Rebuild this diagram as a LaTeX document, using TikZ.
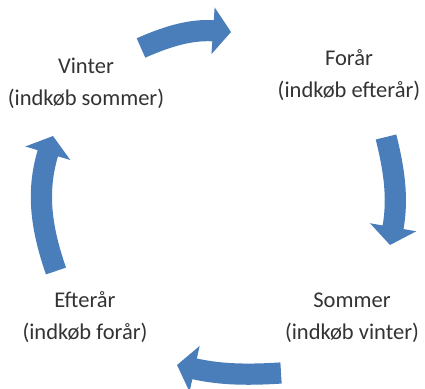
\documentclass[tikz,border=0pt]{standalone}
\usepackage{fontspec}
\setmainfont{Carlito}
\usepackage{tikz}
\usetikzlibrary{positioning,arrows.meta}

\definecolor{cycleblue}{RGB}{74,126,187}
\tikzset{
  season/.style={align=center, text=black!80, font=\fontsize{16}{23}\selectfont},
  cyclearrow/.style={draw=cycleblue, line width=0.53cm,
    -{Triangle[width=1.15cm, length=0.45cm]}}
}

\begin{document}
\begin{tikzpicture}[x=0.025cm, y=0.025cm]
  \useasboundingbox (0,0) rectangle (425,388);
  % seasons
  \node[season] (vinter) at (86,305) {Vinter\\(indkøb sommer)};
  \node[season] (foraar) at (349,313) {Forår\\(indkøb efterår)};
  \node[season] (sommer) at (352,70) {Sommer\\(indkøb vinter)};
  \node[season] (efteraar) at (85,71) {Efterår\\(indkøb forår)};
  % arrow ends
  \coordinate (t1) at (141,340); \coordinate (t2) at (231,356);
  \coordinate (r1) at (386,251); \coordinate (r2) at (390,143);
  \coordinate (b1) at (281,15);  \coordinate (b2) at (177,23);
  \coordinate (l1) at (56,117);  \coordinate (l2) at (53,252);
  \draw[cyclearrow] (t1) to[bend left=14] (t2);
  \draw[cyclearrow] (r1) to[bend left=12] (r2);
  \draw[cyclearrow] (b1) to[bend left=8] (b2);
  \draw[cyclearrow] (l1) to[bend left=18] (l2);
\end{tikzpicture}
\end{document}
